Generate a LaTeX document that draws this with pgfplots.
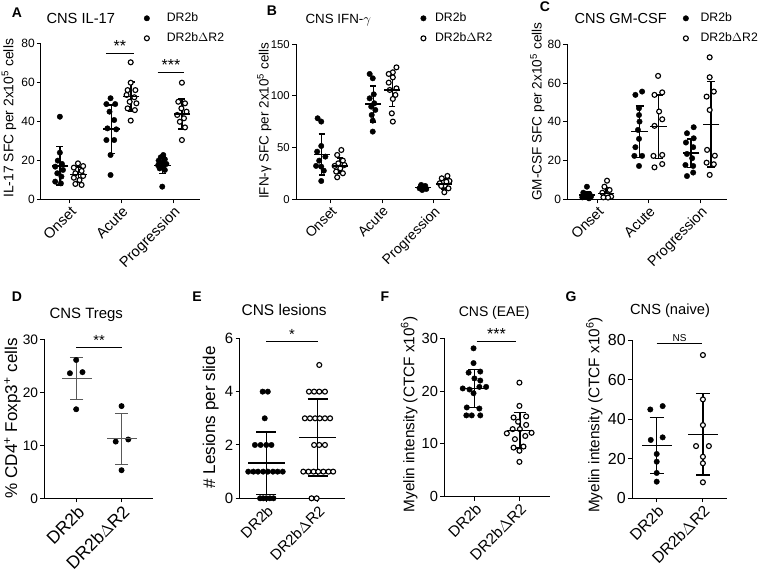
\documentclass[border=0pt]{standalone}
\usepackage{pgfplots}
\pgfplotsset{compat=1.18}
\usepackage{fontspec}
\setmainfont{Liberation Sans}
\newcommand{\fs}[1]{\fontsize{#1}{#1}\selectfont}
\pgfplotsset{
  panel/.style={scale only axis, anchor=south west, axis lines=left,
    axis line style={line width=0.75pt,-}, tick style={line width=0.75pt,black},
    tick align=outside, major tick length=3pt, clip=false, ymin=0,
    enlargelimits=false, /pgf/number format/assume math mode=true,
    xtick={0,1,2}, minor tick num=0,
    yticklabel style={inner xsep=1.5pt},
    xticklabel style={rotate=45, anchor=north east, inner sep=1pt},
    legend image code/.code={\draw[##1] plot coordinates {(0pt,0pt)};},
    legend cell align=left},
  dotf/.style={only marks, mark=*, mark size=2.05pt, black, mark options={fill=black, line width=0.3pt}},
  doto/.style={only marks, mark=*, mark size=1.85pt, black, mark options={fill=white, line width=0.85pt}},
  lg/.style={legend style={draw=none, fill=none, inner sep=0pt, font=\fs{9.2}, row sep=0pt,
    nodes={inner sep=0pt, minimum height=15pt}}},
}
% x, mean, sd, half width, cap half width, line width, colour
\newcommand{\msd}[7]{\addplot[forget plot, only marks, color=#7, mark=-, mark size=#4,
  mark options={line width=#6}, error bars/.cd, y dir=both, y explicit,
  error bar style={line width=#6, color=#7},
  error mark options={rotate=90, mark size=#5, line width=#6, color=#7}]
  coordinates {(#1,#2) +- (0,#3)};}
% x1, x2, y, mid, text, font
\newcommand{\sig}[6]{\addplot[forget plot, black, line width=0.9pt] coordinates {(#1,#3) (#2,#3)};
  \node[anchor=base, font=#6, inner sep=0pt, yshift=1.5pt] at (axis cs:#4,#3) {#5};}
\begin{document}
\begin{tikzpicture}[x=0.75pt,y=-0.75pt]
\path[use as bounding box] (0,0) rectangle (760,573);
% ---------------- A
\begin{axis}[panel, lg, at={(30.75pt,-149.475pt)}, width=119.25pt, height=116.6pt,
  xmin=-0.555, xmax=2.52, ymax=80, ytick={0,20,40,60,80},
  xticklabels={Onset,Acute,Progression},
  yticklabel style={font=\fs{9}}, xticklabel style={font=\fs{11}},
  legend style={at={(0.647,1.100)}, anchor=west, /tikz/every odd column/.append style={column sep=12.9pt}}]
\addplot[dotf] coordinates {(-0.19,42.5) (-0.19,24.0) (-0.23,19.9) (-0.15,18.2) (-0.28,16.8) (-0.13,15.1) (-0.24,13.4) (-0.16,11.7) (-0.28,9.1) (-0.17,8.2)
 (0.79,52.0) (0.88,49.0) (0.71,49.0) (0.77,45.1) (0.86,40.8) (0.73,36.5) (0.90,36.0) (0.71,30.5) (0.86,30.5) (0.79,22.8) (0.79,12.5)
 (1.81,22.8) (1.76,21.6) (1.84,20.6) (1.72,19.9) (1.79,18.9) (1.87,18.2) (1.71,17.5) (1.81,16.8) (1.74,15.9) (1.84,15.1) (1.79,6.5)};
\addlegendentry{DR2b}
\addplot[doto] coordinates {(0.16,18.5) (0.26,17.1) (0.08,16.3) (0.23,14.6) (0.11,13.4) (0.26,12.0) (0.08,11.1) (0.19,9.9) (0.11,7.9) (0.23,7.4)
 (1.18,70.5) (1.18,60.0) (1.12,56.2) (1.27,56.2) (1.10,53.7) (1.25,52.5) (1.16,50.2) (1.29,49.4) (1.12,46.8) (1.26,45.9) (1.18,40.5)
 (2.17,60.0) (2.10,50.2) (2.23,49.4) (2.16,46.8) (2.26,45.1) (2.08,43.4) (2.21,41.7) (2.13,39.9) (2.23,37.0) (2.17,30.5)};
\addlegendentry{DR2b$\Delta$R2}
\msd{-0.19}{17.2}{9.9}{6.2pt}{2.6pt}{1.1pt}{black}
\msd{0.17}{12.8}{3.9}{6.2pt}{2.6pt}{1.1pt}{black}
\msd{0.81}{36.1}{12.4}{6.2pt}{2.6pt}{1.1pt}{black}
\msd{1.19}{52.8}{7.6}{6.2pt}{2.6pt}{1.1pt}{black}
\msd{1.79}{17.5}{4.3}{6.2pt}{2.6pt}{1.1pt}{black}
\msd{2.17}{43.9}{7.8}{6.2pt}{2.6pt}{1.1pt}{black}
\sig{0.70}{1.245}{75.1}{0.97}{**}{\fs{12}}
\sig{1.70}{2.22}{65.3}{1.96}{***}{\fs{12}}
\end{axis}
% ---------------- B
\begin{axis}[panel, lg, at={(222pt,-149.475pt)}, width=115.5pt, height=116.25pt,
  xmin=-0.67, xmax=2.32, ymax=150, ytick={0,50,100,150},
  xticklabels={Onset,Acute,Progression},
  yticklabel style={font=\fs{8.5}}, xticklabel style={font=\fs{10.5}},
  legend style={at={(0.808,1.103)}, anchor=west, /tikz/every odd column/.append style={column sep=6.7pt}}]
\addplot[dotf] coordinates {(-0.25,78.4) (-0.18,75.2) (-0.18,51.6) (-0.26,46.1) (-0.10,41.3) (-0.22,37.4) (-0.28,32.3) (-0.18,31.6) (-0.13,27.7) (-0.18,17.7)
 (0.76,121.3) (0.82,117.1) (0.84,101.6) (0.76,97.7) (0.85,92.9) (0.79,89.7) (0.87,86.5) (0.80,81.6) (0.82,76.1) (0.82,65.5)
 (1.76,13.9) (1.84,12.9) (1.79,11.6) (1.73,10.6) (1.86,10.0) (1.78,9.0) (1.82,12.0) (1.75,12.3)};
\addlegendentry{DR2b}
\addplot[doto] coordinates {(0.21,47.7) (0.13,42.9) (0.24,37.4) (0.15,34.8) (0.08,32.3) (0.27,33.2) (0.19,30.0) (0.11,26.8) (0.24,25.2) (0.13,21.3)
 (1.28,127.7) (1.21,122.9) (1.13,121.3) (1.21,118.0) (1.13,112.9) (1.28,107.4) (1.15,105.8) (1.26,101.0) (1.21,97.1) (1.19,83.2) (1.21,75.2)
 (2.27,22.6) (2.16,20.3) (2.31,17.7) (2.12,15.5) (2.22,13.2) (2.29,10.6) (2.21,6.8) (2.15,12.9) (2.25,17.0)};
\addlegendentry{DR2b$\Delta$R2}
\msd{-0.17}{43.5}{19.8}{5.9pt}{2.3pt}{1.1pt}{black}
\msd{0.18}{32.3}{7.5}{5.9pt}{2.3pt}{1.1pt}{black}
\msd{0.83}{92.3}{17.5}{5.9pt}{2.3pt}{1.1pt}{black}
\msd{1.20}{105.8}{16.0}{5.9pt}{2.3pt}{1.1pt}{black}
\msd{1.80}{11.5}{1.5}{5.9pt}{2.3pt}{1.1pt}{black}
\msd{2.21}{15.0}{5.2}{5.9pt}{2.3pt}{1.1pt}{black}
\end{axis}
% ---------------- C
\begin{axis}[panel, lg, at={(425.475pt,-149.475pt)}, width=119.55pt, height=116.25pt,
  xmin=-0.58, xmax=2.51, ymax=80, ytick={0,20,40,60,80},
  xticklabels={Onset,Acute,Progression},
  yticklabel style={font=\fs{9}}, xticklabel style={font=\fs{10.8}},
  legend style={at={(0.725,1.103)}, anchor=west, /tikz/every odd column/.append style={column sep=9pt}}]
\addplot[dotf] coordinates {(-0.20,6.5) (-0.27,3.4) (-0.15,2.8) (-0.23,1.7) (-0.29,1.0) (-0.16,0.5) (-0.24,2.1) (-0.12,1.4)
 (0.87,55.6) (0.74,53.9) (0.81,47.0) (0.81,43.5) (0.82,40.1) (0.79,35.8) (0.81,31.2) (0.74,26.9) (0.72,22.4) (0.87,22.4) (0.81,17.2)
 (1.87,37.2) (1.74,34.1) (1.87,31.5) (1.72,29.3) (1.86,26.9) (1.74,23.4) (1.84,21.2) (1.71,17.7) (1.86,17.2) (1.74,12.0) (1.86,13.8)};
\addlegendentry{DR2b}
\addplot[doto] coordinates {(0.19,9.6) (0.14,6.5) (0.24,4.8) (0.10,3.4) (0.19,2.2) (0.27,1.4) (0.12,1.0) (0.21,0.9)
 (1.18,63.7) (1.26,55.2) (1.11,53.9) (1.20,45.3) (1.26,41.3) (1.11,37.9) (1.26,22.9) (1.09,22.4) (1.26,18.2) (1.11,16.5)
 (2.18,73.3) (2.18,63.0) (2.26,55.6) (2.12,53.0) (2.18,46.1) (2.13,25.5) (2.28,22.5) (2.12,18.9) (2.26,18.1) (2.18,12.6)};
\addlegendentry{DR2b$\Delta$R2}
\msd{-0.20}{2.2}{1.8}{6.2pt}{3pt}{1.1pt}{black}
\msd{0.17}{3.1}{3.0}{6.2pt}{3pt}{1.1pt}{black}
\msd{0.82}{34.9}{13.3}{6.2pt}{3pt}{1.1pt}{black}
\msd{1.19}{37.5}{16.4}{6.2pt}{3pt}{1.1pt}{black}
\msd{1.82}{23.8}{7.4}{6.2pt}{3pt}{1.1pt}{black}
\msd{2.21}{38.7}{22.1}{6.2pt}{3pt}{1.1pt}{black}
\end{axis}
% ---------------- D
\begin{axis}[panel, at={(33.225pt,-373.725pt)}, width=81.525pt, height=119.25pt,
  xmin=-0.72, xmax=1.70, ymax=30, ytick={0,10,20,30}, xtick={0,1},
  xticklabels={DR2b,DR2b$\Delta$R2},
  yticklabel style={font=\fs{10.3}}, xticklabel style={font=\fs{13.2}}]
\addplot[dotf] coordinates {(-0.01,26.1) (-0.15,23.6) (0.13,23.8) (-0.01,16.8)};
\addplot[doto, mark options={line width=0.7pt}] coordinates {(1.0,17.4) (0.87,10.7) (1.15,11.1) (1.0,5.3)};
\msd{0}{22.6}{4.0}{11.25pt}{5pt}{0.8pt}{black!65}
\msd{1}{11.2}{4.85}{11.25pt}{5pt}{0.8pt}{black!65}
\sig{-0.01}{1.0}{28.4}{0.5}{**}{\fs{11}}
\end{axis}
% ---------------- E
\begin{axis}[panel, at={(179.625pt,-373.725pt)}, width=79.125pt, height=120pt,
  xmin=-0.52, xmax=1.53, ymax=6, ytick={0,2,4,6}, xtick={0,1},
  xticklabels={DR2b,DR2b$\Delta$R2},
  yticklabel style={font=\fs{11.2}}, xticklabel style={font=\fs{11.2}}]
\addplot[dotf] coordinates {(-0.07,4) (0.03,4) (-0.03,3)
 (-0.22,2) (-0.11,2) (0.0,2) (0.10,2)
 (-0.35,1) (-0.25,1) (-0.16,1) (-0.06,1) (0.03,1) (0.13,1) (0.22,1) (0.32,1)
 (-0.12,0) (-0.06,0) (0.0,0) (0.07,0) (0.14,0)};
\addplot[doto] coordinates {(1.03,5)
 (0.83,4) (0.93,4) (1.03,4) (1.14,4)
 (0.75,3) (0.85,3) (0.95,3) (1.04,3) (1.14,3) (1.24,3)
 (0.93,2) (1.03,2) (1.14,2)
 (0.72,1) (0.82,1) (0.92,1) (1.01,1) (1.11,1) (1.21,1) (1.30,1)
 (0.88,0) (0.98,0)};
\msd{0}{1.32}{1.17}{13.7pt}{7.5pt}{1.1pt}{black}
\msd{1}{2.28}{1.45}{13.7pt}{7.5pt}{1.1pt}{black}
\sig{0.0}{1.0}{5.87}{0.5}{*}{\fs{11}}
\end{axis}
% ---------------- F
\begin{axis}[panel, at={(333.225pt,-372.525pt)}, width=79.275pt, height=118.8pt,
  xmin=-0.67, xmax=1.68, ymax=30, ytick={0,10,20,30}, xtick={0,1},
  xticklabels={DR2b,DR2b$\Delta$R2},
  yticklabel style={font=\fs{11}}, xticklabel style={font=\fs{11.5}}]
\addplot[dotf] coordinates {(-0.02,28.1) (-0.02,25.3) (-0.13,23.5) (0.13,23.7) (0.0,22.4) (0.13,22.0)
 (-0.26,20.5) (-0.11,20.3) (0.11,20.8) (0.26,20.8) (-0.02,19.6) (-0.17,16.9) (0.11,16.7)
 (-0.18,15.4) (-0.06,15.4) (0.13,15.4)};
\addplot[doto] coordinates {(1.0,21.6) (1.0,17.2) (0.87,15.0) (1.15,15.2) (0.85,12.8) (1.01,12.8) (0.72,12.0) (1.27,12.1)
 (1.13,11.5) (0.90,10.9) (0.87,9.3) (1.09,9.5) (1.0,8.7) (1.0,6.6) (0.97,14.2) (1.15,13.6)};
\msd{0}{20.5}{3.6}{9.6pt}{4.7pt}{1.0pt}{black}
\msd{1.01}{12.6}{3.4}{9.6pt}{4.7pt}{1.0pt}{black}
\sig{0.05}{0.93}{29.35}{0.49}{***}{\fs{12}}
\end{axis}
% ---------------- G
\begin{axis}[panel, at={(474pt,-373.725pt)}, width=71.025pt, height=118.725pt,
  xmin=-0.54, xmax=1.53, ymax=80, ytick={0,20,40,60,80}, xtick={0,1},
  xticklabels={DR2b,DR2b$\Delta$R2},
  yticklabel style={font=\fs{12}}, xticklabel style={font=\fs{11.8}}]
\addplot[dotf] coordinates {(-0.14,44.9) (0.13,46.6) (-0.13,29.5) (0.13,30.8) (0.0,22.4) (0.0,18.5) (0.0,12.8) (0.0,8.4)};
\addplot[doto] coordinates {(1.01,72.4) (1.01,50.0) (1.01,37.0) (0.86,26.4) (1.14,26.4) (1.01,21.0) (1.01,17.7) (1.01,8.1)};
\msd{0}{26.8}{14.1}{11.25pt}{5.25pt}{1.0pt}{black}
\msd{1.01}{32.3}{20.6}{11.25pt}{5.25pt}{1.0pt}{black}
\sig{0.0}{1.0}{78.3}{0.5}{NS}{\fs{7.5}}
\end{axis}
% ---------------- titles, y labels, panel letters
\node[anchor=base, font=\fs{11}] at (80.8,24) {CNS IL-17};
\node[anchor=base, font=\fs{10}] at (338.3,24) {CNS IFN-$\gamma$};
\node[anchor=base, font=\fs{10.9}] at (620.7,24) {CNS GM-CSF};
\node[anchor=base, font=\fs{11.2}] at (86.3,318.3) {CNS Tregs};
\node[anchor=base, font=\fs{11.6}] at (284.2,315.7) {CNS lesions};
\node[anchor=base, font=\fs{10.5}] at (494.2,317) {CNS (EAE)};
\node[anchor=base, font=\fs{11}] at (670,315) {CNS (naive)};
\node[anchor=base, rotate=90, font=\fs{10.4}] at (13.3,118.3) {IL-17 SFC per 2x10\textsuperscript{5} cells};
\node[anchor=base, rotate=90, font=\fs{10.1}] at (268.5,120.8) {IFN-γ SFC per 2x10\textsuperscript{5} cells};
\node[anchor=base, rotate=90, font=\fs{10.2}] at (541.7,111.7) {GM-CSF SFC per 2x10\textsuperscript{5} cells};
\node[anchor=base, rotate=90, font=\fs{12.8}] at (17,418.3) {\% CD4\textsuperscript{+} Foxp3\textsuperscript{+} cells};
\node[anchor=base, rotate=90, font=\fs{12.8}] at (215,417.5) {\# Lesions per slide};
\node[anchor=base, rotate=90, font=\fs{11.5}] at (414.3,414.2) {Myelin intensity (CTCF x10\textsuperscript{6})};
\node[anchor=base, rotate=90, font=\fs{11.5}] at (599.3,415) {Myelin intensity (CTCF x10\textsuperscript{6})};
\node[anchor=base, font=\bfseries\fs{10.5}] at (17,17.3) {A};
\node[anchor=base, font=\bfseries\fs{10.5}] at (272,15.5) {B};
\node[anchor=base, font=\bfseries\fs{10.5}] at (545,11.2) {C};
\node[anchor=base, font=\bfseries\fs{10.5}] at (17,302) {D};
\node[anchor=base, font=\bfseries\fs{10.5}] at (197,302) {E};
\node[anchor=base, font=\bfseries\fs{10.5}] at (385,302) {F};
\node[anchor=base, font=\bfseries\fs{10.5}] at (571,302) {G};
\end{tikzpicture}
\end{document}
